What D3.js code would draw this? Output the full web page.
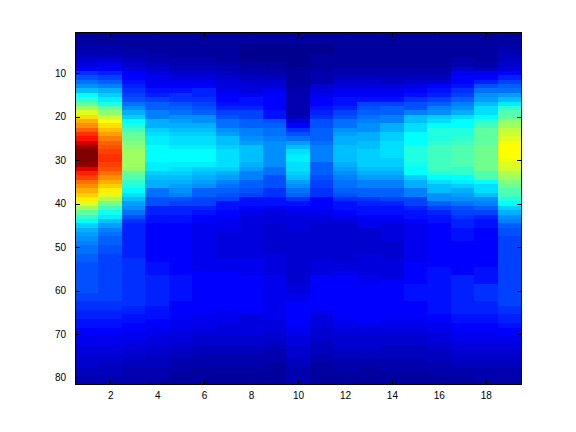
<!DOCTYPE html>
<html><head><meta charset="utf-8">
<script src="https://cdn.jsdelivr.net/npm/d3@7"></script>
<style>html,body{margin:0;padding:0;background:#fff}svg{display:block}</style>
</head><body><svg id="c" width="576" height="432"></svg>
<script>
const xTicks=[2,4,6,8,10,12,14,16,18];
const yTicks=[10,20,30,40,50,60,70,80];
const col01=[2,2,2,3,3,4,5,6,8,11, 13,15,17,20,24,27,30,34,38,42, 45,47,50,53,55,59,63,64,64,64, 63,58,54,52,49,47,45,43,41,38, 34,30,27,24,21,19,18,17,16,15, 15,14,14,13,13,13,13,13,13,13, 12,12,11,11,10,10,9,9,8,8, 7,7,6,6,5,5,5,4,4,3,3];
const col02=[2,2,2,3,3,4,5,7,8,10, 12,14,16,19,21,23,26,30,33,37, 40,42,44,46,48,50,51,52,53,53, 52,51,49,47,45,43,41,38,35,31, 28,25,23,20,18,16,15,14,14,13, 13,12,12,12,12,12,12,12,12,12, 12,12,11,11,10,10,9,9,8,8, 7,7,6,6,5,5,4,4,4,3,3];
const col03=[2,2,2,2,3,3,4,5,6,8, 8,9,10,11,12,13,15,17,19,21, 24,26,28,30,31,32,33,34,34,34, 34,33,30,29,27,26,24,22,20,18, 17,15,13,11,10,10,10,10,10,10, 10,10,11,11,11,11,11,11,11,11, 11,11,11,10,10,9,9,8,8,7, 7,6,6,5,5,4,4,3,3,3,3];
const col04=[2,2,2,2,2,3,3,4,5,6, 7,7,8,9,10,12,14,14,16,16, 19,19,21,22,23,23,24,24,24,24, 23,23,21,20,19,19,15,15,13,13, 10,10,9,9,8,8,8,8,8,8, 8,8,8,9,9,9,10,10,10,10, 10,10,10,9,9,9,8,8,7,7, 6,6,5,5,4,4,4,3,3,3,2];
const col05=[2,2,2,2,2,2,3,3,4,5, 6,7,8,9,11,11,13,14,15,17, 18,19,20,21,22,22,23,24,24,24, 23,22,21,20,19,18,17,16,13,12, 10,10,9,9,8,8,8,8,8,8, 8,8,8,8,8,8,9,9,9,9, 9,9,8,8,8,8,7,7,7,6, 6,5,5,4,4,3,3,3,2,2,2];
const col06=[2,2,2,2,2,2,3,3,4,5, 6,7,8,10,10,11,12,13,14,17, 17,19,20,21,22,22,23,24,24,24, 23,21,20,19,18,17,14,14,12,12, 10,9,8,8,7,7,7,7,7,7, 7,7,7,7,7,8,8,8,8,8, 8,8,8,8,8,7,7,7,6,6, 5,5,4,4,3,3,3,2,2,2,2];
const col07=[2,2,2,2,2,2,2,3,3,4, 5,6,6,7,8,8,9,10,12,13, 15,15,17,18,20,20,21,22,22,22, 22,21,19,18,16,15,14,13,12,9, 9,8,8,7,7,7,6,6,6,6, 6,6,7,7,7,8,8,8,8,8, 8,8,8,8,7,7,7,6,6,6, 5,5,4,4,3,3,3,2,2,2,2];
const col08=[2,2,2,1,1,1,1,2,3,3, 4,5,6,6,8,9,9,10,12,12, 14,14,16,16,17,18,20,20,20,20, 19,18,16,16,14,14,13,12,9,9, 8,7,6,6,6,6,6,6,6,6, 6,6,7,7,7,7,8,8,8,8, 8,8,8,8,8,6,6,6,6,6, 5,5,4,4,3,3,3,2,2,2,2];
const col09=[2,2,2,1,1,1,1,2,2,3, 4,5,5,7,8,8,8,8,9,9, 13,14,15,15,16,17,17,17,17,17, 17,15,15,13,13,13,11,11,9,9, 7,6,6,6,5,5,5,5,5,5, 5,6,6,6,6,6,7,7,7,7, 7,7,7,7,7,7,6,6,6,5, 5,4,4,3,3,3,2,2,2,2,2];
const col10=[2,2,2,1,1,1,1,1,2,2, 2,2,2,3,3,3,3,3,3,4, 6,8,11,13,15,18,20,22,23,23, 22,22,21,20,18,17,15,14,11,9, 8,7,6,6,6,6,5,5,5,5, 5,5,5,5,5,5,5,5,6,6, 7,7,8,8,8,8,8,8,7,7, 6,6,5,5,5,4,4,3,3,3,3];
const col11=[2,2,2,1,1,2,2,2,2,3, 3,3,5,6,7,8,8,9,10,11, 13,13,14,14,14,15,16,16,16,16, 14,14,14,13,12,12,11,11,8,8, 8,7,6,6,5,5,5,5,5,5, 5,5,6,6,6,6,8,8,8,8, 8,8,8,8,7,6,6,6,5,5, 5,4,4,4,3,3,2,2,2,2,2];
const col12=[2,2,2,2,2,2,2,2,3,3, 4,5,6,7,8,9,9,10,12,13, 15,15,17,18,19,19,20,20,20,20, 19,18,17,16,15,15,14,13,11,9, 9,8,7,6,5,5,5,5,5,5, 5,5,5,6,6,7,8,8,8,8, 8,8,8,8,8,8,7,7,6,6, 5,5,5,4,4,3,3,3,2,2,2];
const col13=[2,2,2,2,2,2,2,2,3,3, 4,5,6,7,8,9,12,13,14,15, 16,17,17,19,19,20,20,21,21,21, 21,20,19,18,16,16,14,14,11,10, 9,9,8,7,7,5,5,5,5,5, 5,6,6,6,6,6,7,7,8,8, 8,8,8,8,8,8,8,7,6,6, 5,5,5,4,4,3,3,2,2,2,2];
const col14=[2,2,2,2,2,2,2,2,3,3, 4,4,6,7,8,9,12,14,14,16, 16,19,19,21,21,22,22,22,22,21, 21,20,19,18,16,16,14,14,12,10, 9,9,8,7,6,6,6,6,5,5, 5,5,6,6,6,6,6,8,8,8, 8,8,8,8,8,8,7,7,6,6, 5,5,4,4,4,3,3,3,2,2,2];
const col15=[2,2,2,2,2,2,2,2,3,3, 4,5,6,8,9,11,13,13,16,20, 20,22,22,24,24,24,26,26,26,26, 25,24,24,21,19,19,16,16,12,12, 10,9,9,8,7,7,7,7,7,7, 7,7,7,8,8,8,8,8,9,9, 9,9,8,8,8,8,7,7,6,6, 5,5,4,4,4,3,3,3,2,2,2];
const col16=[2,2,2,2,2,2,2,2,3,3, 4,5,8,9,10,12,14,16,17,21, 22,24,26,26,26,27,28,28,28,28, 28,28,26,24,22,20,20,17,17,14, 12,10,9,9,8,8,8,8,8,8, 8,8,8,8,9,9,9,9,9,9, 9,9,9,9,9,8,8,7,7,6, 6,5,5,4,4,4,3,3,3,2,2];
const col17=[2,2,2,2,2,2,3,3,5,7, 8,8,9,11,12,14,16,17,19,22, 24,24,26,26,27,28,29,29,29,29, 29,27,27,24,23,21,19,18,17,15, 13,12,11,10,10,9,9,9,8,8, 8,8,8,8,8,8,10,10,10,10, 10,10,10,10,10,9,9,8,8,7, 7,6,6,5,5,4,4,3,3,2,2];
const col18=[2,2,2,2,2,2,2,3,4,7, 8,10,13,15,17,18,20,22,22,24, 27,28,30,30,30,30,31,31,31,31, 31,31,29,29,24,22,22,20,17,16, 14,12,10,9,9,8,8,8,8,8, 8,8,8,8,9,9,9,9,11,11, 11,11,10,10,10,9,9,8,8,7, 7,6,6,5,5,4,4,3,3,3,2];
const col19=[2,2,2,3,3,4,4,5,6,8, 10,12,14,15,18,20,23,27,29,30, 33,34,36,37,38,40,40,40,40,39, 38,37,35,34,32,31,29,28,26,24, 21,19,17,16,14,13,13,12,12,12, 12,12,12,12,12,12,12,12,12,12, 12,12,12,11,11,10,10,9,8,8, 7,6,6,5,5,4,4,3,3,3,2];
const columns=[col01,col02,col03,col04,col05,col06,col07,col08,col09,col10,col11,col12,col13,col14,col15,col16,col17,col18,col19];

const L=75,R=521,T=32,B=384;
const x=d3.scaleLinear().domain([0.5,19.5]).range([L,R]);
const y=d3.scaleLinear().domain([0.5,81.5]).range([T,B]);
const jet=d3.scaleLinear().domain([1,8,24,40,56,64])
  .range(["#00008f","#0000ff","#00ffff","#ffff00","#ff0000","#800000"]).clamp(true);

const svg=d3.select("#c");
const cells=columns.flatMap((c,i)=>c.map((v,j)=>({col:i+1,row:j+1,v})));
svg.append("g").attr("shape-rendering","crispEdges").selectAll("rect").data(cells).join("rect")
  .attr("x",d=>Math.round(x(d.col-0.5)))
  .attr("width",d=>Math.round(x(d.col+0.5))-Math.round(x(d.col-0.5)))
  .attr("y",d=>Math.round(y(d.row-0.5)))
  .attr("height",d=>Math.round(y(d.row+0.5))-Math.round(y(d.row-0.5)))
  .attr("fill",d=>jet(d.v));

function style(g,labels){
  g.attr("shape-rendering","crispEdges");
  g.selectAll("line").attr("stroke","#000");
  g.select(".domain").attr("stroke","#000").attr("fill","none");
  g.selectAll("text").attr("font-family","'Liberation Sans',Arial,sans-serif").attr("font-size",10).attr("fill","#000");
  if(!labels) g.selectAll("text").remove();
}
const tk=-4.5;
svg.append("g").attr("transform",`translate(0,${B})`).call(d3.axisBottom(x).tickValues(xTicks).tickSizeInner(tk).tickSizeOuter(0).tickPadding(8)).call(style,true);
svg.append("g").attr("transform",`translate(0,${T})`).call(d3.axisTop(x).tickValues(xTicks).tickSizeInner(tk).tickSizeOuter(0)).call(style,false);
svg.append("g").attr("transform",`translate(${L},0)`).call(d3.axisLeft(y).tickValues(yTicks).tickSizeInner(tk).tickSizeOuter(0).tickPadding(9)).call(style,true);
svg.append("g").attr("transform",`translate(${R},0)`).call(d3.axisRight(y).tickValues(yTicks).tickSizeInner(tk).tickSizeOuter(0)).call(style,false);
</script></body></html>
